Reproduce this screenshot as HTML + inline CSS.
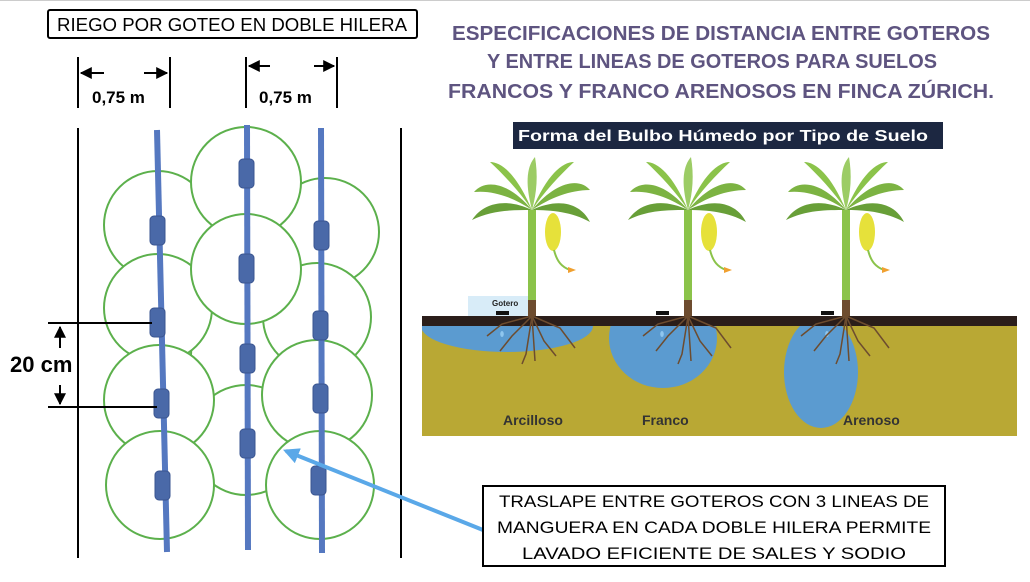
<!DOCTYPE html>
<html><head><meta charset="utf-8"><style>
html,body{margin:0;padding:0;background:#fff;}
svg{display:block;font-family:"Liberation Sans",Arial,sans-serif;}
</style></head><body>
<svg width="1030" height="582" viewBox="0 0 1030 582" xmlns="http://www.w3.org/2000/svg">
<defs>
<marker id="ah" viewBox="0 0 10 10" refX="9" refY="5" markerWidth="6" markerHeight="6" orient="auto"><path d="M0,0 L10,5 L0,10 z" fill="#000"/></marker>
<marker id="bh" viewBox="0 0 10 10" refX="8" refY="5" markerWidth="4" markerHeight="4" orient="auto"><path d="M0,0 L10,5 L0,10 z" fill="#5aa8e8"/></marker>
<clipPath id="soil"><rect x="422" y="326" width="595" height="110"/></clipPath>
<g id="plant">
  <rect x="-4" y="0" width="8" height="92" fill="#8bc34a"/>
  <rect x="-4" y="90" width="8" height="16" fill="#6d4c2f"/>
  <path d="M0,0 C-25,-12 -48,-8 -60,10 C-40,0 -20,0 0,0" fill="#689f38"/>
  <path d="M0,0 C25,-12 48,-8 58,12 C40,2 20,0 0,0" fill="#689f38"/>
  <path d="M0,0 C-25,-30 -48,-30 -58,-18 C-38,-20 -18,-12 0,0" fill="#7cb342"/>
  <path d="M0,0 C25,-30 48,-32 58,-20 C38,-20 18,-12 0,0" fill="#7cb342"/>
  <path d="M0,0 C-15,-35 -30,-48 -42,-48 C-28,-35 -12,-18 0,0" fill="#8bc34a"/>
  <path d="M0,0 C15,-35 30,-48 42,-48 C28,-35 12,-18 0,0" fill="#8bc34a"/>
  <path d="M0,0 C-8,-30 -4,-45 3,-53 C6,-35 5,-18 0,0" fill="#9ccc65"/>
  <ellipse cx="21" cy="22" rx="8" ry="19" fill="#e6e13a"/>
  <path d="M22,40 C25,52 30,57 38,60" stroke="#8bc34a" stroke-width="2" fill="none"/>
  <path d="M36,57 l8,3 l-8,3z" fill="#f0a030"/>
  <path d="M0,106 l-20,20 l-12,15 M0,106 l-6,38 l-4,10 M0,106 l12,25 l12,15 M0,106 l28,12 l15,20 M0,106 l-30,8 l-15,12 M0,106 l3,45" stroke="#6d4c2f" stroke-width="1.5" fill="none"/>
</g>
</defs>
<rect x="0" y="0" width="1030" height="1" fill="#ccc"/>
<!-- left title -->
<rect x="48" y="10" width="369" height="28" rx="2" fill="#fff" stroke="#000" stroke-width="2"/>
<text x="232" y="31" font-size="18" text-anchor="middle" textLength="350" lengthAdjust="spacingAndGlyphs">RIEGO POR GOTEO EN DOBLE HILERA</text>
<!-- dims -->
<g stroke="#000" stroke-width="2">
<line x1="78" y1="57" x2="78" y2="108"/><line x1="170" y1="57" x2="170" y2="108"/>
<line x1="246" y1="57" x2="246" y2="108"/><line x1="337" y1="57" x2="337" y2="108"/>
<line x1="104" y1="73" x2="81" y2="73" marker-end="url(#ah)"/>
<line x1="144" y1="73" x2="167" y2="73" marker-end="url(#ah)"/>
<line x1="270" y1="66" x2="249" y2="66" marker-end="url(#ah)"/>
<line x1="314" y1="66" x2="334" y2="66" marker-end="url(#ah)"/>
</g>
<text x="92" y="103" font-size="17" font-weight="bold">0,75 m</text>
<text x="259" y="103" font-size="17" font-weight="bold">0,75 m</text>
<!-- right title -->
<g fill="#5e5480" font-weight="bold" font-size="20" text-anchor="middle">
<text x="721" y="40" textLength="538" lengthAdjust="spacingAndGlyphs">ESPECIFICACIONES DE DISTANCIA ENTRE GOTEROS</text>
<text x="712" y="68" textLength="450" lengthAdjust="spacingAndGlyphs">Y ENTRE LINEAS DE GOTEROS PARA SUELOS</text>
<text x="721" y="98" textLength="546" lengthAdjust="spacingAndGlyphs">FRANCOS Y FRANCO ARENOSOS EN FINCA ZÚRICH.</text>
</g>
<!-- field -->
<line x1="78" y1="128" x2="78" y2="558" stroke="#000" stroke-width="2"/>
<line x1="401" y1="128" x2="401" y2="558" stroke="#000" stroke-width="2"/>
<g fill="#fff" stroke="#5cb04c" stroke-width="2">
<circle cx="246" cy="355" r="55"/><circle cx="246" cy="440" r="55"/>
<circle cx="158" cy="225" r="54"/><circle cx="325" cy="232" r="54"/>
<circle cx="158" cy="308" r="54"/><circle cx="317" cy="317" r="54"/>
<circle cx="159" cy="400" r="55"/><circle cx="317" cy="395" r="55"/>
<circle cx="160" cy="485" r="54"/><circle cx="320" cy="485" r="54"/>
<circle cx="246" cy="182" r="55"/><circle cx="246" cy="269" r="55"/>
</g>
<g stroke="#5578c0" stroke-width="6" stroke-linecap="butt">
<line x1="157" y1="130" x2="167" y2="552"/>
<line x1="247" y1="125" x2="248" y2="550"/>
<line x1="321" y1="128" x2="322" y2="553"/>
</g>
<g fill="#4a69a8" stroke="#3a5590" stroke-width="1">
<rect x="150" y="216" width="15" height="29" rx="4"/><rect x="150" y="308" width="15" height="29" rx="4"/>
<rect x="154" y="389" width="15" height="29" rx="4"/><rect x="155" y="471" width="15" height="29" rx="4"/>
<rect x="239" y="159" width="15" height="29" rx="4"/><rect x="239" y="254" width="15" height="29" rx="4"/>
<rect x="240" y="344" width="15" height="29" rx="4"/><rect x="240" y="429" width="15" height="29" rx="4"/>
<rect x="314" y="221" width="15" height="29" rx="4"/><rect x="313" y="311" width="15" height="29" rx="4"/>
<rect x="313" y="384" width="15" height="29" rx="4"/><rect x="311" y="466" width="15" height="29" rx="4"/>
</g>
<!-- 20cm -->
<g stroke="#000" stroke-width="2">
<line x1="48" y1="323" x2="152" y2="323"/><line x1="48" y1="407" x2="157" y2="407"/>
<line x1="60" y1="348" x2="60" y2="327" marker-end="url(#ah)"/>
<line x1="60" y1="385" x2="60" y2="404" marker-end="url(#ah)"/>
</g>
<text x="10" y="372" font-size="22" font-weight="bold">20 cm</text>
<!-- blue arrow -->
<line x1="483" y1="530" x2="286" y2="451" stroke="#5aa8e8" stroke-width="4" marker-end="url(#bh)"/>
<!-- bottom box -->
<rect x="483" y="486" width="462" height="80" fill="#fff" stroke="#000" stroke-width="2"/>
<g font-size="17" text-anchor="middle">
<text x="714" y="507" textLength="430" lengthAdjust="spacingAndGlyphs">TRASLAPE ENTRE GOTEROS CON 3 LINEAS DE</text>
<text x="714" y="533" textLength="434" lengthAdjust="spacingAndGlyphs">MANGUERA EN CADA DOBLE HILERA PERMITE</text>
<text x="714" y="559" textLength="384" lengthAdjust="spacingAndGlyphs">LAVADO EFICIENTE DE SALES Y SODIO</text>
</g>
<!-- right image -->
<rect x="513" y="122" width="430" height="27" fill="#1c2741"/>
<text x="518" y="141" font-size="16" font-weight="bold" fill="#fff" textLength="410" lengthAdjust="spacingAndGlyphs">Forma del Bulbo Húmedo por Tipo de Suelo</text>
<rect x="422" y="326" width="595" height="110" fill="#b9a834"/>
<g clip-path="url(#soil)" fill="#5b9bd0">
<ellipse cx="507" cy="326" rx="86" ry="26"/>
<ellipse cx="663" cy="338" rx="54" ry="50"/>
<ellipse cx="821" cy="372" rx="37" ry="56"/>
</g>
<rect x="422" y="316" width="595" height="10" fill="#2b1e1a"/>
<rect x="468" y="296" width="60" height="20" fill="#d8ecf8"/>
<text x="492" y="306" font-size="8" font-weight="bold" fill="#222">Gotero</text>
<g fill="#111"><rect x="496" y="311" width="13" height="4"/><rect x="656" y="311" width="13" height="4"/><rect x="821" y="311" width="13" height="4"/></g>
<g fill="#8fc6ee"><ellipse cx="502" cy="334" rx="1.8" ry="3"/><ellipse cx="662" cy="334" rx="1.8" ry="3"/><ellipse cx="827" cy="334" rx="1.8" ry="3"/></g>
<use href="#plant" x="532" y="210"/>
<use href="#plant" x="688" y="210"/>
<use href="#plant" x="846" y="210"/>
<g font-size="14" font-weight="bold" fill="#333">
<text x="503" y="425">Arcilloso</text><text x="642" y="425">Franco</text><text x="843" y="425">Arenoso</text>
</g>
</svg>
</body></html>
